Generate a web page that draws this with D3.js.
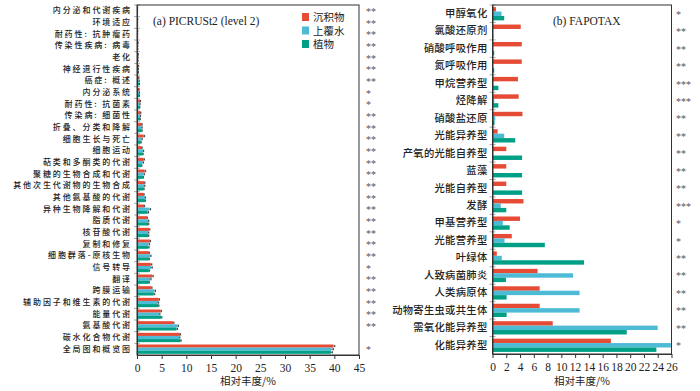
<!DOCTYPE html>
<html><head><meta charset="utf-8">
<script src="https://cdn.jsdelivr.net/npm/d3@7/dist/d3.min.js"></script>
<style>body{margin:0;background:#fff}svg{display:block}</style>
</head><body>
<svg id="c" width="700" height="391"></svg>
<script>
// ---------- DATA ----------
const seriesNames = ["沉积物", "上覆水", "植物"];
const seriesColors = ["#E64B35", "#4DBBD5", "#00A087"];

const catsA = ["内分泌和代谢疾病","环境适应","耐药性: 抗肿瘤药","传染性疾病: 病毒","老化","神经退行性疾病","癌症: 概述","内分泌系统","耐药性: 抗菌素","传染病: 细菌性","折叠、分类和降解","细胞生长与死亡","细胞运动","萜类和多酮类的代谢","聚糖的生物合成和代谢","其他次生代谢物的生物合成","其他氨基酸的代谢","异种生物降解和代谢","脂质代谢","核苷酸代谢","复制和修复","细胞群落-原核生物","信号转导","翻译","跨膜运输","辅助因子和维生素的代谢","能量代谢","氨基酸代谢","碳水化合物代谢","全局图和概览图"];
const sedA   = [0.12,0.15,0.15,0.2,0.25,0.3,0.35,0.4,0.65,0.7,0.95,1.35,0.95,1.35,1.55,1.5,1.35,1.45,2.0,2.45,2.6,2.4,2.8,3.1,2.9,4.4,4.8,7.3,8.7,39.8];
const waterA = [0.1,0.12,0.13,0.15,0.2,0.25,0.4,0.45,0.55,0.65,0.95,0.9,1.2,1.15,1.35,1.5,1.6,2.45,2.3,2.25,2.35,2.7,2.9,2.7,3.5,4.3,4.5,8.2,8.55,39.4];
const plantA = [0.1,0.12,0.12,0.15,0.2,0.25,0.45,0.45,0.5,0.6,0.95,0.75,1.15,0.9,1.2,1.35,1.6,2.15,2.3,2.3,2.3,2.4,2.4,2.4,3.4,4.35,4.9,8.0,8.8,39.3];
const errSedA   = [0.02,0.02,0.02,0.03,0.03,0.04,0.05,0.05,0.08,0.08,0.1,0.2,0.1,0.15,0.2,0.1,0.1,0.1,0.1,0.15,0.15,0.1,0.2,0.2,0.15,0.15,0.15,0.2,0.15,0.3];
const errWaterA = [0.02,0.02,0.02,0.03,0.03,0.04,0.05,0.05,0.08,0.08,0.1,0.15,0.15,0.15,0.15,0.1,0.1,0.3,0.1,0.15,0.2,0.15,0.2,0.15,0.25,0.1,0.15,0.2,0.15,0.4];
const errPlantA = [0.02,0.02,0.02,0.03,0.03,0.04,0.05,0.05,0.08,0.08,0.1,0.1,0.1,0.1,0.1,0.1,0.1,0.2,0.1,0.1,0.15,0.1,0.15,0.1,0.2,0.1,0.15,0.2,0.15,0.3];
const sigA = ["**","**","**","**","**","**","**","*","*","**","**","**","**","**","**","**","**","**","**","**","**","**","*","**","**","**","**","**","","*"];
const ticksA = [0,5,10,15,20,25,30,35,40,45];

const catsB = ["甲醇氧化","氯酸还原剂","硝酸呼吸作用","氮呼吸作用","甲烷营养型","烃降解","硝酸盐还原","光能异养型","产氧的光能自养型","蓝藻","光能自养型","发酵","甲基营养型","光能营养型","叶绿体","人致病菌肺炎","人类病原体","动物寄生虫或共生体","需氧化能异养型","化能异养型"];
const sedB   = [0.5,4.1,4.25,4.25,3.7,3.8,4.35,0.75,2.0,2.0,2.0,4.5,4.0,2.8,0.63,6.55,6.85,6.85,8.75,17.2];
const waterB = [1.3,0.05,0.05,0.05,0.1,0.25,0.4,1.7,0.05,0.05,0.05,1.2,1.5,1.75,1.35,11.7,12.65,12.65,24.0,25.9];
const plantB = [1.7,0.1,0.25,0.25,0.85,0.85,0.3,3.3,4.3,4.3,4.3,2.0,2.5,7.6,13.3,1.95,2.05,2.05,19.5,23.8];
const sigB = ["*","**","**","**","***","***","**","**","**","**","**","***","*","*","**","**","**","**","**","*"];
const ticksB = [0,2,4,6,8,10,12,14,16,18,20,22,24,26];

const axisTitle = "相对丰度/%";
const titleA = "(a) PICRUSt2 (level 2)";
const titleB = "(b) FAPOTAX";

// ---------- DRAW ----------
const svg = d3.select("#c");
const cjk = "'Noto Sans CJK SC','Noto Sans',sans-serif";
const serif = "'Liberation Serif','DejaVu Serif',serif";

function panel(o) {
  const g = svg.append("g");
  const x = d3.scaleLinear().domain(o.domain).range([o.x0, o.x1]);
  const y = d3.scaleBand().domain(o.cats).range([o.y0, o.y1]).paddingInner(o.pad).paddingOuter(o.pad/2);
  const ys = d3.scaleBand().domain([0,1,2]).range([0, y.bandwidth()]);
  const series = o.series;

  // gray band ticks
  g.selectAll(".bt").data(o.cats).join("line")
    .attr("x1", o.x0 - 3).attr("x2", o.x0 + 3)
    .attr("y1", d => y(d) - y.step()*o.pad/2).attr("y2", d => y(d) - y.step()*o.pad/2)
    .attr("stroke", "#aaa").attr("stroke-width", 1);

  // bars
  series.forEach((vals, si) => {
    g.selectAll(".b"+si).data(o.cats).join("rect")
      .attr("x", o.x0)
      .attr("y", (d) => y(d) + ys(si))
      .attr("width", (d,i) => Math.max(0, x(vals[i]) - o.x0))
      .attr("height", ys.bandwidth())
      .attr("fill", seriesColors[si]);
    if (o.errs) {
      const e = o.errs[si];
      g.selectAll(".e"+si).data(o.cats).join("path")
        .attr("d", (d,i) => {
          const yy = y(d) + ys(si) + ys.bandwidth()/2;
          const xa = x(vals[i]), xb = x(vals[i] + e[i]);
          return `M${xa},${yy}H${xb}M${xb},${yy-1.2}V${yy+1.2}`;
        })
        .attr("stroke", "#222").attr("stroke-width", 0.8).attr("fill","none");
    }
  });

  // frame
  g.append("rect").attr("x", o.x0).attr("y", o.y0)
    .attr("width", o.x1 - o.x0).attr("height", o.y1 - o.y0)
    .attr("fill", "none").attr("stroke", "#333").attr("stroke-width", 1);

  // x axis
  const xa = g.append("g").attr("transform", `translate(0,${o.y1})`)
    .call(d3.axisBottom(x).tickValues(o.ticks).tickSize(4).tickSizeOuter(0).tickFormat(d3.format("d")));
  xa.select(".domain").attr("stroke", "#333");
  xa.selectAll(".tick line").attr("stroke", "#333");
  xa.selectAll("text").attr("font-family", serif).attr("font-size", 11.5).attr("fill", "#222").attr("dy", "0.9em");

  // y labels
  const ya = g.append("g").attr("transform", `translate(${o.x0},0)`)
    .call(d3.axisLeft(y).tickSize(0).tickPadding(o.labPad));
  ya.select(".domain").attr("stroke", "#333");
  ya.selectAll("text").attr("font-family", cjk).attr("font-size", o.labSize)
    .attr("letter-spacing", o.labSpacing).attr("font-weight", 500).attr("fill", "#222");

  // significance
  g.selectAll(".sig").data(o.cats).join("text")
    .attr("x", o.sigX).attr("y", d => y(d) + y.bandwidth()/2 + 4)
    .attr("font-family", serif).attr("font-size", 10).attr("fill", "#555")
    .text((d,i) => o.sig[i]);

  // title
  g.append("text").attr("x", o.titleX).attr("y", o.y0 + 20)
    .attr("font-family", serif).attr("font-size", 11.5).attr("fill", "#222").text(o.title);

  // axis title
  g.append("text").attr("x", (o.x0 + o.x1)/2).attr("y", 385)
    .attr("text-anchor", "middle").attr("font-family", cjk).attr("font-size", 10.5).attr("fill", "#222")
    .text(axisTitle);
  return {x, y};
}

panel({x0:137, x1:359, y0:5, y1:355, domain:[0,45], cats:catsA, pad:0.2,
  series:[sedA, waterA, plantA], errs:[errSedA, errWaterA, errPlantA],
  ticks:ticksA, sig:sigA, sigX:366, title:titleA, titleX:153,
  labSize:8, labSpacing:1.9, labPad:5});

panel({x0:492.5, x1:671.5, y0:5, y1:354, domain:[0,26], cats:catsB, pad:0.24,
  series:[sedB, waterB, plantB], errs:null,
  ticks:ticksB, sig:sigB, sigX:676, title:titleB, titleX:553,
  labSize:10.3, labSpacing:0.3, labPad:5});

// legend
const lg = svg.append("g");
seriesNames.forEach((n, i) => {
  lg.append("rect").attr("x", 302).attr("y", 13 + i*13.5).attr("width", 7).attr("height", 8).attr("fill", seriesColors[i]);
  lg.append("text").attr("x", 313).attr("y", 21 + i*13.5)
    .attr("font-family", cjk).attr("font-size", 10.5).attr("fill", "#222").text(n);
});
</script>
</body></html>
